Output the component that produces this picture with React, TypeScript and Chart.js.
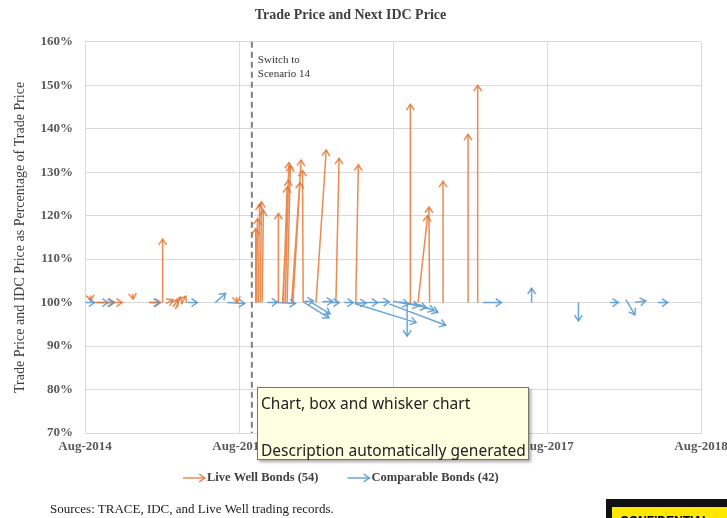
import React, { useEffect, useRef } from "react";
import { Chart, registerables } from "chart.js";

Chart.register(...registerables);

// x values are months since Aug-2014; y values are % of trade price
const xTickLabels = ["Aug-2014", "Aug-2015", "Aug-2016", "Aug-2017", "Aug-2018"];
const switchMonth = 13;
const switchLabel = ["Switch to", "Scenario 14"];

const liveStartX = [0.4, 0.8, 1.55, 3.7, 5.0, 6.05, 6.3, 6.85, 7.05, 7.5, 11.8, 13.28, 13.36, 13.5, 13.65, 13.8, 15.07, 15.4, 15.6, 15.45, 15.75, 16.1, 17.0, 16.2, 18.0, 19.55, 21.1, 25.4, 25.95, 26.85, 27.9, 29.85, 30.6];
const liveStartY = [101.6, 100, 100, 102.0, 100, 100, 99.8, 99.0, 98.5, 99.6, 101.3, 100, 100, 100, 100, 100, 100, 100, 100, 100, 100, 100, 100, 100, 100, 100, 100, 100, 100, 100, 100, 100, 100];
const liveEndX = [0.45, 2.2, 2.9, 3.75, 5.9, 6.05, 6.85, 7.25, 7.45, 7.85, 11.85, 13.3, 13.44, 13.6, 13.75, 13.9, 15.07, 15.9, 15.85, 15.75, 16.0, 16.85, 16.95, 16.75, 18.8, 19.8, 21.3, 25.35, 26.7, 26.8, 27.9, 29.85, 30.6];
const liveEndY = [100.4, 100, 100, 100.8, 100, 114.6, 100.7, 100.6, 101.3, 101.5, 100.0, 117.0, 119.3, 122.6, 123.2, 121.2, 120.5, 132.2, 128.2, 126.6, 131.5, 132.8, 130.4, 127.6, 135.1, 133.2, 131.7, 145.6, 120.0, 122.0, 127.9, 138.7, 150.0];

const compStartX = [0.05, 0.95, 1.4, 5.0, 8.0, 10.15, 11.1, 14.2, 15.0, 17.0, 17.1, 17.6, 18.5, 19.1, 20.2, 21.0, 21.9, 22.8, 21.0, 25.1, 23.7, 24.0, 24.5, 25.0, 25.6, 26.0, 31.0, 34.8, 38.45, 40.9, 42.15, 42.85, 44.65];
const compStartY = [100, 100, 100, 100, 100, 100, 100, 100, 100, 100.2, 100, 100.1, 100.2, 100, 100, 99.9, 100, 100, 99.8, 100, 99.7, 100.3, 100.2, 100, 99.8, 99.6, 100, 100, 100, 100, 100.7, 100, 100];
const compEndX = [0.75, 1.8, 2.3, 5.8, 8.75, 10.95, 12.45, 15.0, 16.4, 17.8, 19.0, 19.1, 19.3, 19.8, 20.9, 21.9, 22.8, 23.7, 25.8, 25.1, 28.1, 25.2, 26.0, 26.6, 27.2, 27.5, 32.45, 34.8, 38.45, 41.55, 42.85, 43.7, 45.4];
const compEndY = [100, 100, 100, 100, 100, 102.1, 99.8, 100.1, 99.8, 100.4, 96.5, 97.4, 100.3, 100, 100, 99.9, 100, 100.2, 95.4, 92.3, 94.8, 99.6, 99.2, 98.8, 98.2, 97.8, 100, 103.3, 95.8, 100, 97.2, 100.4, 100];

const seriesNames = ["Live Well Bonds (54)", "Comparable Bonds (42)"];
const seriesColors = ["rgba(232,118,50,0.85)", "rgba(91,155,213,0.9)"];

function buildSegments(sx: number[], sy: number[], ex: number[], ey: number[]) {
  const out: { x: number; y: number | null }[] = [];
  for (let i = 0; i < sx.length; i++) {
    out.push({ x: sx[i], y: sy[i] });
    out.push({ x: ex[i], y: ey[i] });
    out.push({ x: ex[i], y: null });
  }
  return out;
}

function drawHead(ctx: CanvasRenderingContext2D, x0: number, y0: number, x1: number, y1: number, color: string) {
  const dx = x1 - x0;
  const dy = y1 - y0;
  const len = Math.hypot(dx, dy);
  if (len < 0.01) return;
  const ang = Math.atan2(dy, dx);
  const hl = 7;
  const spread = 0.6;
  ctx.save();
  ctx.strokeStyle = color;
  ctx.lineWidth = 1.5;
  ctx.lineJoin = "miter";
  ctx.beginPath();
  ctx.moveTo(x1 - hl * Math.cos(ang - spread), y1 - hl * Math.sin(ang - spread));
  ctx.lineTo(x1, y1);
  ctx.lineTo(x1 - hl * Math.cos(ang + spread), y1 - hl * Math.sin(ang + spread));
  ctx.stroke();
  ctx.restore();
}

const arrowPlugin = {
  id: "arrowHeads",
  afterDatasetsDraw(chart: any) {
    const ctx = chart.ctx;
    ctx.save();
    ctx.beginPath();
    ctx.rect(chart.chartArea.left - 10, chart.chartArea.top, chart.chartArea.right - chart.chartArea.left + 20, chart.chartArea.bottom - chart.chartArea.top);
    ctx.clip();
    chart.data.datasets.forEach((ds: any, i: number) => {
      const meta = chart.getDatasetMeta(i);
      for (let k = 0; k + 1 < meta.data.length; k += 3) {
        const p0 = meta.data[k];
        const p1 = meta.data[k + 1];
        drawHead(ctx, p0.x, p0.y, p1.x, p1.y, ds.borderColor);
      }
    });
    ctx.restore();
  },
};

const switchPlugin = {
  id: "switchLine",
  beforeDatasetsDraw(chart: any) {
    const ctx = chart.ctx;
    const xs = chart.scales.x;
    const { top, bottom } = chart.chartArea;
    const x = xs.getPixelForValue(switchMonth);
    ctx.save();
    ctx.strokeStyle = "#7f7f7f";
    ctx.lineWidth = 2;
    ctx.setLineDash([6, 4]);
    ctx.beginPath();
    ctx.moveTo(x, top);
    ctx.lineTo(x, bottom);
    ctx.stroke();
    ctx.setLineDash([]);
    ctx.fillStyle = "#333333";
    ctx.font = "11px 'Liberation Serif'";
    ctx.textBaseline = "middle";
    ctx.textAlign = "left";
    ctx.fillText(switchLabel[0], x + 6, top + 18);
    ctx.fillText(switchLabel[1], x + 6, top + 32);
    ctx.restore();
  },
};

const legendPlugin = {
  id: "arrowLegend",
  afterDraw(chart: any) {
    const ctx = chart.ctx;
    const y = chart.chartArea.bottom + 45;
    let x = chart.chartArea.left + 98;
    ctx.save();
    ctx.font = "bold 12.5px 'Liberation Serif'";
    ctx.textBaseline = "middle";
    ctx.textAlign = "left";
    seriesNames.forEach((name, i) => {
      const color = seriesColors[i];
      ctx.strokeStyle = color;
      ctx.lineWidth = 1.5;
      ctx.beginPath();
      ctx.moveTo(x, y);
      ctx.lineTo(x + 22, y);
      ctx.stroke();
      drawHead(ctx, x, y, x + 22, y, color);
      ctx.fillStyle = "#404040";
      ctx.fillText(name, x + 24, y);
      x += 24 + ctx.measureText(name).width + 29;
    });
    ctx.restore();
  },
};

export default function App() {
  const ref = useRef<HTMLCanvasElement | null>(null);

  useEffect(() => {
    document.body.style.margin = "0";
    if (!ref.current) return;
    const chart = new Chart(ref.current, {
      type: "line",
      data: {
        datasets: [
          {
            label: seriesNames[0],
            data: buildSegments(liveStartX, liveStartY, liveEndX, liveEndY),
            borderColor: seriesColors[0],
            borderWidth: 1.5,
            pointRadius: 0,
            spanGaps: false,
            fill: false,
          },
          {
            label: seriesNames[1],
            data: buildSegments(compStartX, compStartY, compEndX, compEndY),
            borderColor: seriesColors[1],
            borderWidth: 1.5,
            pointRadius: 0,
            spanGaps: false,
            fill: false,
          },
        ],
      },
      options: {
        animation: false,
        responsive: false,
        parsing: false,
        layout: { padding: { top: 1, left: 0, right: 26, bottom: 55 } },
        plugins: {
          legend: { display: false },
          tooltip: { enabled: false },
          title: {
            display: true,
            text: "Trade Price and Next IDC Price",
            color: "#404040",
            font: { family: "'Liberation Serif'", size: 14, weight: "bold" },
            padding: { top: 6, bottom: 18 },
          },
        },
        scales: {
          x: {
            type: "linear",
            min: 0,
            max: 48,
            afterBuildTicks: (s: any) => {
              s.ticks = xTickLabels.map((_, i) => ({ value: i * 12 }));
            },
            ticks: {
              autoSkip: false,
              maxRotation: 0,
              padding: 6,
              color: "#595959",
              font: { family: "'Liberation Serif'", size: 13, weight: "bold" },
              callback: (v: any) => xTickLabels[Math.round(Number(v) / 12)] ?? "",
            },
            grid: { color: "#d9d9d9", drawTicks: false },
            border: { color: "#d9d9d9" },
            afterFit: (s: any) => {
              s.height = 30;
              s.paddingLeft = 0;
              s.paddingRight = 0;
            },
          },
          y: {
            type: "linear",
            min: 70,
            max: 160,
            ticks: {
              stepSize: 10,
              padding: 12,
              color: "#595959",
              font: { family: "'Liberation Serif'", size: 13, weight: "bold" },
              callback: (v: any) => `${v}%`,
            },
            grid: { color: "#d9d9d9", drawTicks: false },
            border: { color: "#d9d9d9" },
            title: {
              display: true,
              text: "Trade Price and IDC Price as Percentage of Trade Price",
              color: "#404040",
              font: { family: "'Liberation Serif'", size: 14 },
              padding: { top: 12, bottom: 0 },
            },
            afterFit: (s: any) => {
              s.width = 85;
              s.paddingTop = 0;
              s.paddingBottom = 0;
            },
          },
        },
      },
      plugins: [switchPlugin, arrowPlugin, legendPlugin],
    } as any);
    return () => chart.destroy();
  }, []);

  return (
    <div style={{ position: "fixed", left: 0, top: 0, width: 727, height: 518, overflow: "hidden", background: "#fff" }}>
      <canvas ref={ref} width={727} height={518} style={{ position: "absolute", left: 0, top: 0 }} />
      <div
        style={{
          position: "absolute",
          left: 50,
          top: 501,
          fontFamily: "'Liberation Serif'",
          fontSize: 13,
          color: "#222",
          whiteSpace: "nowrap",
        }}
      >
        Sources: TRACE, IDC, and Live Well trading records.
      </div>
      <div
        style={{
          position: "absolute",
          left: 257,
          top: 387,
          width: 272,
          height: 73,
          boxSizing: "border-box",
          background: "#ffffe1",
          border: "1px solid #767676",
          boxShadow: "2px 2px 3px rgba(0,0,0,0.35)",
          fontFamily: "'Noto Sans'",
          fontSize: 15.5,
          color: "#222",
          whiteSpace: "nowrap",
        }}
      >
        <div style={{ position: "absolute", left: 3, top: 4 }}>Chart, box and whisker chart</div>
        <div style={{ position: "absolute", left: 3, top: 51 }}>Description automatically generated</div>
      </div>
      <div
        style={{
          position: "absolute",
          left: 606,
          top: 499,
          width: 130,
          height: 30,
          background: "#111",
        }}
      >
        <div
          style={{
            position: "absolute",
            left: 6,
            top: 8,
            width: 118,
            height: 20,
            background: "#ffe800",
            fontFamily: "'Liberation Sans'",
            fontWeight: "bold",
            fontSize: 12,
            color: "#000",
            paddingLeft: 8,
            paddingTop: 7,
            lineHeight: "14px",
          }}
        >
          CONFIDENTIAL
        </div>
      </div>
    </div>
  );
}
